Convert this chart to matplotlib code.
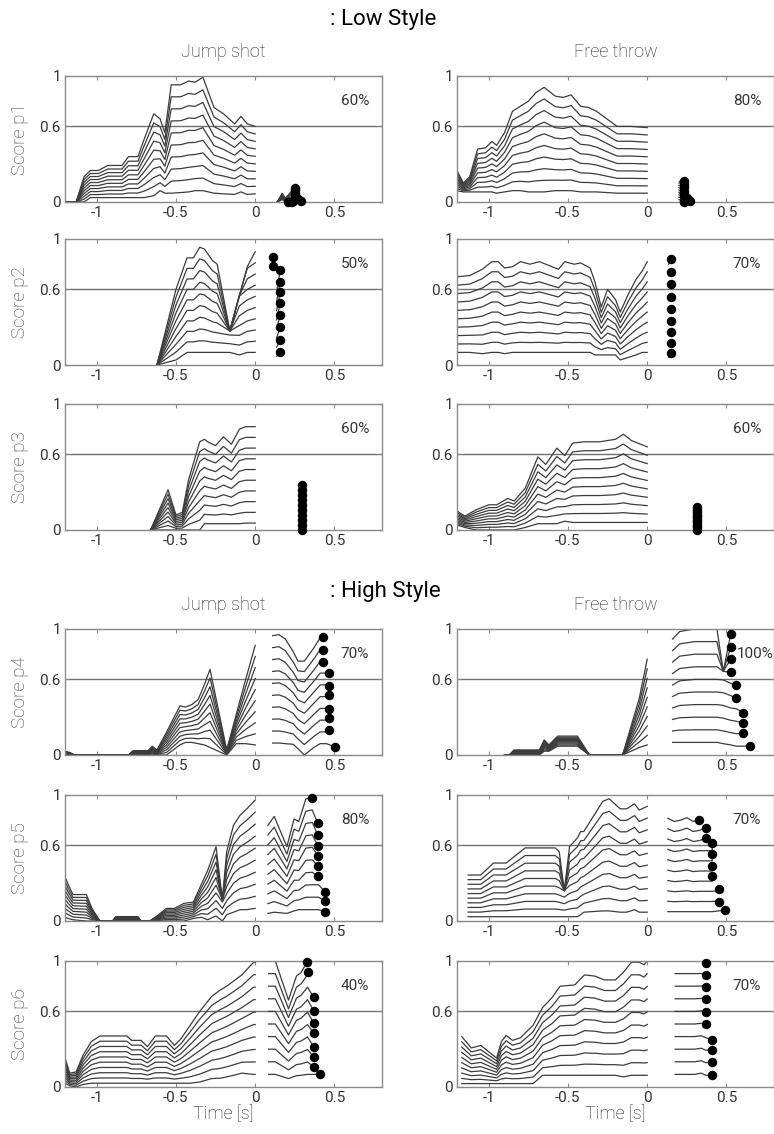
import numpy as np
import matplotlib
matplotlib.use('Agg')
from matplotlib import pyplot as plt

plt.rcParams['font.family'] = ['Roboto', 'DejaVu Sans']

# ---------------- data ----------------
# each panel: top and bottom trace of the stack before t=0 (cap = envelope where traces meet),
# short segments after t=0 that end in a dot

row_names = ['Score p1', 'Score p2', 'Score p3', 'Score p4', 'Score p5', 'Score p6']
pct_jump = ['60%', '50%', '60%', '70%', '80%', '40%']
pct_free = ['80%', '70%', '60%', '100%', '70%', '70%']

# --- p1 jump shot
j1_t = [-1.2, -1.13, -1.08, -1.04, -0.99, -0.93, -0.84, -0.8, -0.74, -0.7, -0.64, -0.6, -0.57, -0.53,
        -0.47, -0.42, -0.38, -0.33, -0.26, -0.2, -0.13, -0.09, -0.05, 0]
j1_top = [0, 0, 0.2, 0.25, 0.25, 0.29, 0.29, 0.36, 0.36, 0.5, 0.7, 0.66, 0.55, 0.93,
          0.93, 0.96, 0.95, 0.99, 0.75, 0.7, 0.62, 0.68, 0.62, 0.6]
j1_bot = [0, 0, 0, 0.035, 0.035, 0.035, 0.035, 0.035, 0.035, 0.035, 0.05, 0.09, 0.07, 0.07,
          0.075, 0.08, 0.09, 0.09, 0.07, 0.065, 0.06, 0.08, 0.06, 0.065]
j1_post_t = [0.14, 0.17, 0.19]
j1_post_top = [0.0, 0.07, 0.03]
j1_post_bot = [0.0, 0.02, 0.0]
j1_dot_x = [0.21, 0.23, 0.24, 0.29, 0.27, 0.25, 0.25, 0.25, 0.25, 0.25]
j1_dot_y = [0.0, 0.0, 0.01, 0.01, 0.02, 0.035, 0.055, 0.075, 0.095, 0.115]

# --- p1 free throw
f1_t = [-1.2, -1.16, -1.12, -1.07, -1.02, -0.98, -0.95, -0.9, -0.85, -0.8, -0.75, -0.7, -0.65,
        -0.58, -0.53, -0.48, -0.42, -0.37, -0.32, -0.19, -0.1, 0]
f1_top = [0.25, 0.15, 0.2, 0.42, 0.43, 0.48, 0.45, 0.55, 0.72, 0.76, 0.8, 0.87, 0.91,
          0.84, 0.83, 0.85, 0.76, 0.75, 0.72, 0.6, 0.6, 0.59]
f1_bot = [0.09, 0.08, 0.08, 0.08, 0.08, 0.08, 0.07, 0.08, 0.09, 0.09, 0.08, 0.08, 0.08,
          0.09, 0.09, 0.09, 0.08, 0.08, 0.08, 0.07, 0.07, 0.07]
f1_post_t = [0.2]
f1_post_top = [0.17]
f1_post_bot = [0.0]
f1_dot_x = [0.23, 0.23, 0.27, 0.25, 0.23, 0.23, 0.23, 0.23, 0.23, 0.23]
f1_dot_y = [0.0, 0.01, 0.01, 0.03, 0.05, 0.07, 0.09, 0.12, 0.145, 0.17]

# --- p2 jump shot
j2_t = [-0.62, -0.5, -0.43, -0.39, -0.35, -0.32, -0.27, -0.24, -0.16, -0.1, -0.05, 0]
j2_top = [0, 0.6, 0.85, 0.85, 0.935, 0.92, 0.83, 0.8, 0.72, 0.78, 0.85, 0.9]
j2_bot = [0, 0.04, 0.1, 0.1, 0.1, 0.1, 0.1, 0.1, 0.1, 0.08, 0.1, 0.1]
j2_cap = [1, 1, 1, 1, 1, 1, 1, 0.8, 0.27, 0.55, 0.78, 1.0]
j2_post_t = [0.135]
j2_post_top = [0.72]
j2_post_bot = [0.07]
j2_dot_x = [0.158, 0.158, 0.158, 0.158, 0.158, 0.158, 0.158, 0.158, 0.115, 0.115]
j2_dot_y = [0.102, 0.196, 0.298, 0.398, 0.495, 0.58, 0.66, 0.757, 0.785, 0.856]

# --- p2 free throw
f2_t = [-1.2, -1.12, -1.04, -0.98, -0.94, -0.9, -0.85, -0.8, -0.74, -0.68, -0.62, -0.56, -0.52,
        -0.46, -0.42, -0.36, -0.33, -0.29, -0.25, -0.2, -0.17, -0.12, -0.07, -0.03, 0]
f2_top = [0.70, 0.71, 0.76, 0.82, 0.82, 0.77, 0.78, 0.82, 0.80, 0.82, 0.79, 0.76, 0.82,
          0.80, 0.81, 0.77, 0.66, 0.46, 0.60, 0.52, 0.42, 0.56, 0.68, 0.75, 0.82]
f2_bot = [0.10, 0.10, 0.09, 0.10, 0.10, 0.09, 0.10, 0.10, 0.10, 0.10, 0.10, 0.10, 0.10,
          0.10, 0.10, 0.10, 0.08, 0.08, 0.08, 0.08, 0.04, 0.06, 0.08, 0.10, 0.10]
f2_post_t = [0.135]
f2_post_top = [0.8]
f2_post_bot = [0.06]
f2_dot_x = [0.151, 0.151, 0.151, 0.151, 0.151, 0.151, 0.151, 0.151, 0.151]
f2_dot_y = [0.097, 0.175, 0.259, 0.353, 0.445, 0.542, 0.639, 0.738, 0.838]

# --- p3 jump shot
j3_t = [-0.66, -0.55, -0.5, -0.46, -0.42, -0.35, -0.32, -0.3, -0.25, -0.2, -0.15, -0.1, -0.06, 0]
j3_top = [0, 0.32, 0.12, 0.14, 0.4, 0.7, 0.72, 0.7, 0.67, 0.74, 0.68, 0.8, 0.82, 0.82]
j3_bot = [0, 0, 0, 0, 0, 0, 0.05, 0.05, 0.05, 0.05, 0.05, 0.05, 0.055, 0.055]
j3_post_t = [0.27]
j3_post_top = [0.36]
j3_post_bot = [0.0]
j3_dot_x = [0.294, 0.294, 0.294, 0.294, 0.294, 0.294, 0.294, 0.294, 0.294, 0.294]
j3_dot_y = [0.0, 0.04, 0.08, 0.12, 0.16, 0.2, 0.24, 0.28, 0.32, 0.36]

# --- p3 free throw
f3_t = [-1.2, -1.15, -1.08, -1.0, -0.95, -0.88, -0.84, -0.77, -0.69, -0.64, -0.57, -0.52, -0.47,
        -0.4, -0.3, -0.2, -0.15, -0.1, 0]
f3_top = [0.15, 0.11, 0.16, 0.2, 0.2, 0.25, 0.23, 0.33, 0.58, 0.52, 0.65, 0.59, 0.69,
          0.7, 0.7, 0.72, 0.76, 0.71, 0.66]
f3_bot = [0.04, 0.02, 0.0, 0.0, 0.0, 0.0, 0.0, 0.02, 0.05, 0.05, 0.05, 0.07, 0.06,
          0.06, 0.06, 0.06, 0.06, 0.06, 0.06]
f3_post_t = [0.29]
f3_post_top = [0.18]
f3_post_bot = [0.0]
f3_dot_x = [0.315, 0.315, 0.315, 0.315, 0.315, 0.315, 0.315, 0.315, 0.315, 0.315]
f3_dot_y = [0.0, 0.02, 0.04, 0.06, 0.08, 0.1, 0.12, 0.14, 0.16, 0.18]

# --- p4 jump shot
j4_t = [-1.2, -1.17, -1.14, -0.8, -0.77, -0.675, -0.65, -0.62, -0.56, -0.475, -0.44, -0.4, -0.36,
        -0.32, -0.285, -0.18, -0.12, -0.06, 0]
j4_top = [0.03, 0.02, 0, 0, 0.035, 0.035, 0.07, 0.04, 0.18, 0.39, 0.38, 0.40, 0.44,
          0.56, 0.68, 0.04, 0.32, 0.6, 0.87]
j4_bot = [0, 0, 0, 0, 0, 0, 0, 0, 0, 0.08, 0.1, 0.1, 0.09,
          0.08, 0.06, 0.0, 0.09, 0.09, 0.08]
j4_post_t = [0.11, 0.15, 0.19, 0.24, 0.27, 0.31, 0.37, 0.41, 0.45, 0.49]
j4_post_top = [0.947, 0.955, 0.92, 0.82, 0.745, 0.745, 0.85, 0.93, 0.93, 0.93]
j4_post_bot = [0.095, 0.095, 0.09, 0.085, 0.05, 0.0, 0.06, 0.09, 0.09, 0.07]
j4_dot_x = [0.506, 0.464, 0.464, 0.464, 0.464, 0.464, 0.464, 0.426, 0.426, 0.426]
j4_dot_y = [0.061, 0.197, 0.292, 0.368, 0.474, 0.547, 0.653, 0.737, 0.832, 0.937]

# --- p4 free throw
f4_t = [-0.9, -0.87, -0.84, -0.68, -0.65, -0.62, -0.565, -0.44, -0.365, -0.155, -0.05, 0]
f4_top = [0, 0, 0.04, 0.04, 0.12, 0.08, 0.15, 0.15, 0, 0, 0.45, 0.76]
f4_bot = [0, 0, 0, 0, 0.03, 0.03, 0.07, 0.07, 0, 0, 0.06, 0.08]
f4_post_t = [0.16, 0.205, 0.3, 0.44, 0.48, 0.527, 0.563, 0.605, 0.648]
f4_post_top = [0.92, 0.98, 1.0, 1.0, 1.0, 0.96, 0.96, 0.96, 0.96]
f4_post_bot = [0.1, 0.1, 0.1, 0.1, 0.09, 0.08, 0.07, 0.07, 0.07]
f4_post_cap = [1, 1, 1, 1, 0.665, 1, 1, 1, 1]
f4_dot_x = [0.648, 0.605, 0.605, 0.605, 0.563, 0.563, 0.527, 0.527, 0.527, 0.527]
f4_dot_y = [0.074, 0.171, 0.253, 0.337, 0.45, 0.553, 0.655, 0.76, 0.855, 0.96]

# --- p5 jump shot
j5_t = [-1.2, -1.18, -1.15, -1.065, -1.03, -0.98, -0.9, -0.88, -0.74, -0.72, -0.665, -0.62, -0.56,
        -0.51, -0.45, -0.39, -0.34, -0.3, -0.247, -0.207, -0.18, -0.137, -0.095, -0.053, 0]
j5_top = [0.35, 0.29, 0.21, 0.21, 0.1, 0, 0, 0.035, 0.035, 0, 0, 0.04, 0.1,
          0.1, 0.14, 0.15, 0.29, 0.40, 0.59, 0.45, 0.55, 0.76, 0.84, 0.89, 0.96]
j5_bot = [0.03, 0.02, 0.01, 0.0, 0, 0, 0, 0, 0, 0, 0, 0, 0,
          0.0, 0.0, 0.02, 0.03, 0.01, 0.04, 0.0, 0.05, 0.07, 0.09, 0.09, 0.1]
j5_cap = [1, 1, 1, 1, 1, 1, 1, 1, 1, 1, 1, 1, 1,
          1, 1, 1, 1, 1, 1, 0.17, 1, 1, 1, 1, 1]
j5_post_t = [0.08, 0.12, 0.2, 0.245, 0.275, 0.32, 0.36, 0.4, 0.44]
j5_post_top = [0.76, 0.83, 0.59, 0.81, 0.79, 0.97, 0.98, 0.98, 0.98]
j5_post_bot = [0.06, 0.07, 0.06, 0.08, 0.09, 0.09, 0.09, 0.09, 0.08]
j5_dot_x = [0.439, 0.439, 0.439, 0.395, 0.395, 0.395, 0.395, 0.395, 0.395, 0.359]
j5_dot_y = [0.074, 0.159, 0.233, 0.357, 0.437, 0.519, 0.598, 0.683, 0.775, 0.979]

# --- p5 free throw
f5_t = [-1.13, -1.05, -0.97, -0.89, -0.84, -0.77, -0.58, -0.555, -0.523, -0.49, -0.44, -0.42, -0.40,
        -0.28, -0.24, -0.17, -0.13, -0.08, -0.05, 0]
f5_top = [0.365, 0.365, 0.46, 0.46, 0.51, 0.58, 0.58, 0.55, 0.5, 0.59, 0.66, 0.71, 0.71,
          0.95, 0.97, 0.89, 0.89, 0.93, 0.88, 0.91]
f5_bot = [0.034, 0.034, 0.034, 0.034, 0.034, 0.034, 0.034, 0.034, 0.034, 0.034, 0.034, 0.05, 0.07,
          0.08, 0.08, 0.07, 0.07, 0.09, 0.07, 0.07]
f5_cap = [1, 1, 1, 1, 1, 1, 1, 1, 0.24, 1, 1, 1, 1,
          1, 1, 1, 1, 1, 1, 1]
f5_post_t = [0.13, 0.17, 0.21, 0.25, 0.29, 0.33, 0.37, 0.41, 0.45, 0.49]
f5_post_top = [0.815, 0.79, 0.80, 0.82, 0.79, 0.80, 0.80, 0.80, 0.80, 0.80]
f5_post_bot = [0.074, 0.074, 0.074, 0.074, 0.074, 0.074, 0.074, 0.074, 0.08, 0.087]
f5_dot_x = [0.489, 0.454, 0.454, 0.411, 0.411, 0.411, 0.411, 0.369, 0.369, 0.327]
f5_dot_y = [0.087, 0.153, 0.251, 0.357, 0.437, 0.532, 0.616, 0.656, 0.74, 0.80]

# --- p6 jump shot
j6_t = [-1.2, -1.17, -1.13, -1.087, -1.034, -0.98, -0.81, -0.78, -0.72, -0.68, -0.63, -0.56,
        -0.51, -0.47, -0.41, -0.35, -0.274, -0.22, -0.18, -0.137, -0.084, -0.01, 0]
j6_top = [0.23, 0.11, 0.12, 0.25, 0.36, 0.405, 0.405, 0.37, 0.37, 0.32, 0.405, 0.405,
          0.33, 0.38, 0.49, 0.6, 0.72, 0.77, 0.80, 0.84, 0.89, 0.99, 0.99]
j6_bot = [0.03, 0.01, 0.0, 0.02, 0.03, 0.03, 0.03, 0.03, 0.03, 0.03, 0.03, 0.03,
          0.03, 0.03, 0.03, 0.04, 0.067, 0.07, 0.08, 0.093, 0.11, 0.1, 0.1]
j6_post_t = [0.084, 0.127, 0.21, 0.26, 0.29, 0.33, 0.37, 0.41]
j6_post_top = [1.0, 1.0, 0.69, 0.88, 0.91, 0.99, 0.99, 0.99]
j6_post_bot = [0.1, 0.1, 0.067, 0.09, 0.093, 0.1, 0.1, 0.1]
j6_dot_x = [0.411, 0.369, 0.369, 0.369, 0.369, 0.369, 0.369, 0.369, 0.331, 0.327]
j6_dot_y = [0.1, 0.16, 0.24, 0.32, 0.427, 0.507, 0.605, 0.712, 0.912, 0.992]

# --- p6 free throw
f6_t = [-1.17, -1.11, -1.05, -0.95, -0.92, -0.89, -0.85, -0.8, -0.72, -0.66, -0.6, -0.55,
        -0.457, -0.395, -0.33, -0.27, -0.2, -0.15, -0.1, -0.05, -0.02, 0]
f6_top = [0.4, 0.31, 0.33, 0.23, 0.36, 0.41, 0.37, 0.39, 0.49, 0.63, 0.71, 0.8,
          0.81, 0.89, 0.88, 0.85, 0.85, 0.91, 0.99, 0.99, 0.97, 1.0]
f6_bot = [0.027, 0.027, 0.027, 0.027, 0.027, 0.027, 0.027, 0.027, 0.027, 0.093, 0.093, 0.093,
          0.093, 0.093, 0.093, 0.093, 0.093, 0.08, 0.093, 0.093, 0.093, 0.093]
f6_post_t = [0.176, 0.3, 0.34, 0.37, 0.407]
f6_post_top = [1.0, 1.0, 1.0, 0.99, 0.99]
f6_post_bot = [0.1, 0.1, 0.11, 0.093, 0.093]
f6_dot_x = [0.407, 0.407, 0.407, 0.407, 0.37, 0.37, 0.37, 0.37, 0.37, 0.37]
f6_dot_y = [0.093, 0.2, 0.293, 0.373, 0.499, 0.595, 0.701, 0.792, 0.885, 0.987]

jump = [
    dict(t=j1_t, top=j1_top, bot=j1_bot, pt=j1_post_t, ptop=j1_post_top, pbot=j1_post_bot, dx=j1_dot_x, dy=j1_dot_y),
    dict(t=j2_t, top=j2_top, bot=j2_bot, cap=j2_cap, pt=j2_post_t, ptop=j2_post_top, pbot=j2_post_bot, dx=j2_dot_x, dy=j2_dot_y),
    dict(t=j3_t, top=j3_top, bot=j3_bot, pt=j3_post_t, ptop=j3_post_top, pbot=j3_post_bot, dx=j3_dot_x, dy=j3_dot_y),
    dict(t=j4_t, top=j4_top, bot=j4_bot, pt=j4_post_t, ptop=j4_post_top, pbot=j4_post_bot, dx=j4_dot_x, dy=j4_dot_y),
    dict(t=j5_t, top=j5_top, bot=j5_bot, cap=j5_cap, pt=j5_post_t, ptop=j5_post_top, pbot=j5_post_bot, dx=j5_dot_x, dy=j5_dot_y),
    dict(t=j6_t, top=j6_top, bot=j6_bot, pt=j6_post_t, ptop=j6_post_top, pbot=j6_post_bot, dx=j6_dot_x, dy=j6_dot_y),
]
free = [
    dict(t=f1_t, top=f1_top, bot=f1_bot, pt=f1_post_t, ptop=f1_post_top, pbot=f1_post_bot, dx=f1_dot_x, dy=f1_dot_y),
    dict(t=f2_t, top=f2_top, bot=f2_bot, pt=f2_post_t, ptop=f2_post_top, pbot=f2_post_bot, dx=f2_dot_x, dy=f2_dot_y),
    dict(t=f3_t, top=f3_top, bot=f3_bot, pt=f3_post_t, ptop=f3_post_top, pbot=f3_post_bot, dx=f3_dot_x, dy=f3_dot_y),
    dict(t=f4_t, top=f4_top, bot=f4_bot, pt=f4_post_t, ptop=f4_post_top, pbot=f4_post_bot, pcap=f4_post_cap, dx=f4_dot_x, dy=f4_dot_y),
    dict(t=f5_t, top=f5_top, bot=f5_bot, cap=f5_cap, pt=f5_post_t, ptop=f5_post_top, pbot=f5_post_bot, dx=f5_dot_x, dy=f5_dot_y),
    dict(t=f6_t, top=f6_top, bot=f6_bot, pt=f6_post_t, ptop=f6_post_top, pbot=f6_post_bot, dx=f6_dot_x, dy=f6_dot_y),
]

N_TRACES = 10
TRACE_COL = '#3c3c3c'
FRAME_COL = '#8a8a8a'
TEXT_COL = '#333333'


def stack(top, bot, w, cap):
    y = bot + w * (top - bot)
    if cap is not None:
        y = np.minimum(y, cap)
    return y


def draw_panel(ax, p, pct):
    t = np.array(p['t'])
    top = np.array(p['top'])
    bot = np.array(p['bot'])
    cap = np.array(p['cap']) if 'cap' in p else None
    for k in range(N_TRACES):
        w = k / (N_TRACES - 1)
        ax.plot(t, stack(top, bot, w, cap), color=TRACE_COL, lw=0.9, zorder=2)

    pt = np.array(p['pt'])
    ptop = np.array(p['ptop'])
    pbot = np.array(p['pbot'])
    pcap = np.array(p['pcap']) if 'pcap' in p else None
    n = len(p['dx'])
    for k in range(n):
        w = k / (n - 1)
        y = stack(ptop, pbot, w, pcap)
        keep = pt < p['dx'][k]
        xs = np.append(pt[keep], p['dx'][k])
        ys = np.append(y[keep], p['dy'][k])
        ax.plot(xs, ys, color=TRACE_COL, lw=0.9, zorder=2)
    ax.plot(p['dx'], p['dy'], 'o', color='black', ms=5.8, zorder=4, clip_on=False)

    ax.axhline(0.6, color='#707070', lw=1.0, zorder=1)

    lx = 0.68 if pct == '100%' else 0.63
    ax.text(lx, 0.8, pct, ha='center', va='center', fontsize=11, color=TEXT_COL)

    ax.set_xlim(-1.2, 0.8)
    ax.set_ylim(0, 1)
    ax.set_xticks([-1, -0.5, 0, 0.5])
    ax.set_xticklabels(['-1', '-0.5', '0', '0.5'])
    ax.set_yticks([0, 0.6, 1])
    ax.set_yticklabels(['0', '0.6', '1'])
    ax.tick_params(direction='in', top=True, right=True, length=3, width=0.8,
                   color=FRAME_COL, labelsize=11, labelcolor=TEXT_COL, pad=3)
    for s in ax.spines.values():
        s.set_color(FRAME_COL)
        s.set_linewidth(1.0)


fig = plt.figure(figsize=(7.74, 11.34), dpi=100)
W, H = 774.0, 1134.0
row_tops = [76, 239, 404, 629, 795, 961]
row_h = 126
col_left = [65, 457]
col_w = 317

for r in range(6):
    bottom = 1 - (row_tops[r] + row_h) / H
    for c, panels, pcts in [(0, jump, pct_jump), (1, free, pct_free)]:
        ax = fig.add_axes([col_left[c] / W, bottom, col_w / W, row_h / H])
        draw_panel(ax, panels[r], pcts[r])
    fig.text(20 / W, bottom + row_h / H / 2, row_names[r], rotation=90, ha='center', va='center',
             fontsize=13.5, color='#444444', fontweight='light')

# headings
fig.text(330 / W, 1 - 20 / H, ': Low Style', ha='left', va='center', fontsize=16, color='black')
fig.text(330 / W, 1 - 591 / H, ': High Style', ha='left', va='center', fontsize=16, color='black')
for y in [52, 605]:
    fig.text((col_left[0] + col_w / 2) / W, 1 - y / H, 'Jump shot', ha='center', va='center',
             fontsize=13, color='#222222', fontweight='light')
    fig.text((col_left[1] + col_w / 2) / W, 1 - y / H, 'Free throw', ha='center', va='center',
             fontsize=13, color='#222222', fontweight='light')
for c in range(2):
    fig.text((col_left[c] + col_w / 2) / W, 1 - 1114 / H, 'Time [s]', ha='center', va='center',
             fontsize=13, color='#222222', fontweight='light')

fig.savefig('out.png', dpi=100)
